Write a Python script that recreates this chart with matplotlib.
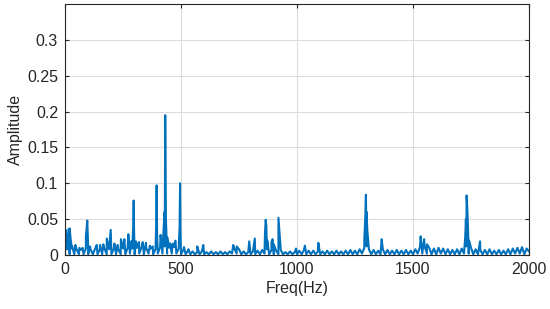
import numpy as np
import matplotlib
matplotlib.use("Agg")
import matplotlib.pyplot as plt

plt.rcParams['font.family'] = ['Liberation Sans', 'DejaVu Sans']

# Broadband floor of the spectrum, sampled every 10 Hz from 0 to 2000 Hz
floor_step = 10
floor_amp = [
    0.001, 0.008, 0.001, 0.009, 0.001, 0.008, 0.001, 0.007, 0.001, 0.009,
    0.001, 0.008, 0.001, 0.009, 0.001, 0.008, 0.001, 0.009, 0.001, 0.008,
    0.001, 0.009, 0.001, 0.008, 0.001, 0.009, 0.001, 0.010, 0.002, 0.009,
    0.001, 0.010, 0.002, 0.011, 0.001, 0.010, 0.002, 0.009, 0.001, 0.008,
    0.002, 0.011, 0.002, 0.012, 0.002, 0.010, 0.002, 0.011, 0.002, 0.009,
    0.001, 0.007, 0.001, 0.006, 0.001, 0.005, 0.001, 0.004, 0.001, 0.005,
    0.001, 0.004, 0.001, 0.005, 0.001, 0.004, 0.001, 0.005, 0.001, 0.004,
    0.001, 0.005, 0.002, 0.009, 0.002, 0.008, 0.001, 0.005, 0.001, 0.004,
    0.001, 0.005, 0.001, 0.006, 0.001, 0.007, 0.002, 0.008, 0.001, 0.007,
    0.001, 0.006, 0.001, 0.007, 0.001, 0.004, 0.001, 0.005, 0.001, 0.004,
    0.001, 0.006, 0.001, 0.007, 0.001, 0.006, 0.001, 0.006, 0.001, 0.005,
    0.001, 0.005, 0.001, 0.006, 0.001, 0.005, 0.001, 0.006, 0.001, 0.005,
    0.001, 0.006, 0.001, 0.007, 0.001, 0.006, 0.001, 0.008, 0.002, 0.010,
    0.012, 0.008, 0.001, 0.007, 0.001, 0.006, 0.001, 0.008, 0.001, 0.007,
    0.001, 0.006, 0.001, 0.007, 0.001, 0.006, 0.001, 0.007, 0.001, 0.006,
    0.001, 0.008, 0.002, 0.011, 0.002, 0.012, 0.002, 0.010, 0.001, 0.009,
    0.001, 0.010, 0.002, 0.009, 0.001, 0.008, 0.001, 0.007, 0.001, 0.008,
    0.001, 0.009, 0.002, 0.012, 0.002, 0.010, 0.001, 0.008, 0.001, 0.007,
    0.001, 0.007, 0.001, 0.008, 0.001, 0.006, 0.001, 0.007, 0.001, 0.006,
    0.001, 0.008, 0.001, 0.009, 0.002, 0.010, 0.002, 0.011, 0.001, 0.009,
    0.005,
]

# Spectral lines (Hz) and their amplitudes
peak_freq = [3, 8, 15, 20, 25, 31, 45, 62, 76, 90, 96, 99, 108, 137, 151, 165,
             180, 197, 213, 227, 241, 256, 273, 286, 294, 296, 298, 306, 319,
             335, 349, 366, 378, 393, 395, 397, 412, 424, 429, 432, 435, 441,
             453, 464, 476, 494, 496, 498, 513, 532, 570, 596, 725, 740, 794,
             818, 862, 865, 868, 872, 890, 895, 900, 920, 996, 1034, 1092,
             1290, 1294, 1297, 1300, 1303, 1308, 1365, 1533, 1548, 1560,
             1725, 1728, 1731, 1734, 1737, 1742, 1789]
peak_amp = [0.035, 0.020, 0.036, 0.037, 0.020, 0.012, 0.014, 0.010, 0.010,
            0.025, 0.048, 0.020, 0.012, 0.014, 0.014, 0.015, 0.023, 0.035,
            0.016, 0.014, 0.022, 0.022, 0.029, 0.019, 0.040, 0.076, 0.030,
            0.019, 0.018, 0.018, 0.017, 0.013, 0.012, 0.040, 0.097, 0.030,
            0.028, 0.030, 0.060, 0.195, 0.050, 0.025, 0.016, 0.016, 0.020,
            0.040, 0.100, 0.030, 0.011, 0.008, 0.012, 0.014, 0.014, 0.012,
            0.019, 0.023, 0.030, 0.049, 0.040, 0.020, 0.018, 0.022, 0.015,
            0.052, 0.009, 0.013, 0.017, 0.020, 0.050, 0.084, 0.060, 0.035,
            0.015, 0.022, 0.026, 0.022, 0.015, 0.025, 0.050, 0.083, 0.065,
            0.040, 0.020, 0.019]

xticks = [0, 500, 1000, 1500, 2000]
yticks = [0, 0.05, 0.1, 0.15, 0.2, 0.25, 0.3]

floor_freq = np.arange(len(floor_amp)) * floor_step
freq = np.concatenate([floor_freq, np.array(peak_freq, dtype=float)])
amp = np.concatenate([np.array(floor_amp), np.array(peak_amp)])
order = np.argsort(freq, kind='stable')
freq, amp = freq[order], amp[order]

fig = plt.figure(figsize=(5.5, 3.09), dpi=100)
ax = fig.add_axes([65 / 550, 1 - 255 / 309, 464 / 550, 251 / 309])
ax.plot(freq, amp, color='#0072BD', linewidth=1.5)

ax.set_xlim(0, 2000)
ax.set_ylim(0, 0.35)
ax.set_xticks(xticks)
ax.set_xticklabels([str(t) for t in xticks])
ax.set_yticks(yticks)
ax.set_yticklabels(['0', '0.05', '0.1', '0.15', '0.2', '0.25', '0.3'])
ax.grid(True, color='#DCDCDC', linewidth=0.8)
ax.set_axisbelow(True)
for s in ax.spines.values():
    s.set_color('#262626')
    s.set_linewidth(0.8)
ax.tick_params(direction='in', length=3, width=0.8, colors='#262626',
               labelsize=11.5, labelcolor='#262626', top=True, right=True,
               pad=5)
ax.set_xlabel('Freq(Hz)', fontsize=11.5, color='#262626', labelpad=3)
ax.set_ylabel('Amplitude', fontsize=11.5, color='#262626', labelpad=3)

fig.savefig('out.png', dpi=100)
